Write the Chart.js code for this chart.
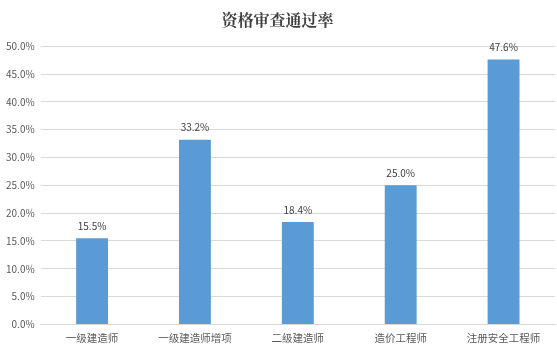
<!DOCTYPE html>
<html>
<head>
<meta charset="utf-8">
<script src="https://cdn.jsdelivr.net/npm/chart.js@4"></script>
<style>
  html, body { margin: 0; padding: 0; background: #fff; }
  #wrap { width: 557px; height: 362px; }
</style>
</head>
<body>
<div id="wrap"><canvas id="passChart"></canvas></div>
<script>
// Data
const categories = ['一级建造师', '一级建造师增项', '二级建造师', '造价工程师', '注册安全工程师'];
const passRates = [15.5, 33.2, 18.4, 25.0, 47.6];
const yTicks = [0, 5, 10, 15, 20, 25, 30, 35, 40, 45, 50];

const labelFont = '"Microsoft YaHei", "Noto Sans CJK SC", sans-serif';

// Simple value labels above each bar
const barLabels = {
    id: 'barLabels',
    afterDatasetsDraw(chart) {
        const ctx = chart.ctx;
        const meta = chart.getDatasetMeta(0);
        ctx.save();
        ctx.font = '10px ' + labelFont;
        ctx.fillStyle = '#404040';
        ctx.textAlign = 'center';
        ctx.textBaseline = 'bottom';
        meta.data.forEach((bar, i) => {
            ctx.fillText(passRates[i].toFixed(1) + '%', bar.x, bar.y - 7);
        });
        ctx.restore();
    }
};

new Chart(document.getElementById('passChart').getContext('2d'), {
    type: 'bar',
    data: {
        labels: categories,
        datasets: [{
            data: passRates,
            backgroundColor: '#5b9bd5',
            borderWidth: 0,
            barPercentage: 0.31,
            categoryPercentage: 1
        }]
    },
    options: {
        responsive: true,
        maintainAspectRatio: false,
        animation: false,
        layout: { padding: { left: 0, right: 2, top: 0, bottom: 11 } },
        plugins: {
            legend: { display: false },
            tooltip: { enabled: false },
            title: {
                display: true,
                text: '资格审查通过率',
                color: '#404040',
                font: { family: '"SimSun", "Noto Serif CJK SC", "Noto Sans CJK SC", serif', size: 16, weight: 'bold' },
                padding: { top: 10, bottom: 17 }
            }
        },
        scales: {
            x: {
                grid: { display: false, drawTicks: false },
                border: { color: '#d9d9d9' },
                ticks: { color: '#595959', font: { family: labelFont, size: 10.5 }, padding: 7, maxRotation: 0 }
            },
            y: {
                min: 0,
                max: 50,
                afterBuildTicks(axis) { axis.ticks = yTicks.map(v => ({ value: v })); },
                grid: { color: '#d9d9d9', drawTicks: false },
                border: { display: false },
                ticks: {
                    color: '#595959',
                    font: { family: labelFont, size: 10 },
                    padding: 6,
                    callback: v => v.toFixed(1) + '%'
                }
            }
        }
    },
    plugins: [barLabels]
});
</script>
</body>
</html>
